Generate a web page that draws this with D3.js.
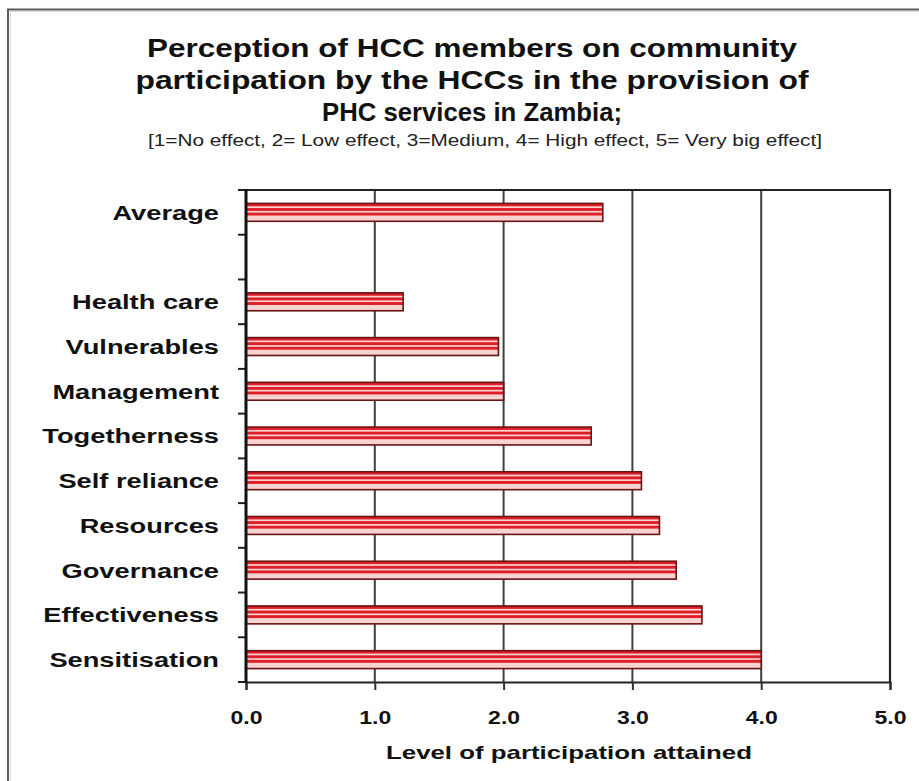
<!DOCTYPE html>
<html>
<head>
<meta charset="utf-8">
<script src="https://cdn.jsdelivr.net/npm/d3@7/dist/d3.min.js"></script>
<style>
  html, body { margin: 0; padding: 0; background: #fff; }
  svg { display: block; }
  text { font-family: "Liberation Sans", Arial, sans-serif; fill: #111; }
</style>
</head>
<body>
<svg id="chart" width="919" height="781"></svg>
<script>
// Categories listed top to bottom; the empty entry leaves a gap under "Average".
const categories = ["Average", "", "Health care", "Vulnerables", "Management",
  "Togetherness", "Self reliance", "Resources", "Governance", "Effectiveness", "Sensitisation"];
const values = [2.77, null, 1.22, 1.96, 2.0, 2.68, 3.07, 3.21, 3.34, 3.54, 4.0];
const xTicks = [0, 1, 2, 3, 4, 5];
const titleLines = [
  "Perception of HCC members on community",
  "participation by the HCCs in the provision of",
  "PHC services in Zambia;"
];
const subtitle = "[1=No effect, 2= Low effect, 3=Medium, 4= High effect, 5= Very big effect]";
const xTitle = "Level of participation attained";

const svg = d3.select("#chart");
const plot = { left: 246, right: 890, top: 190, bottom: 682 };
const stretch = 1.33; // horizontal text stretch

// outer frame
svg.append("path")
  .attr("d", "M8,781 L8,9.5 L919,9.5")
  .attr("fill", "none").attr("stroke", "#5a5a5a").attr("stroke-width", 2);
svg.append("path")
  .attr("d", "M10.5,781 L10.5,11.5 L919,11.5")
  .attr("fill", "none").attr("stroke", "#d8d8d8").attr("stroke-width", 1);

// titles
const titleY = [57, 89, 121];
const titleW = [650, 673, 300];
titleLines.forEach((t, i) => {
  svg.append("text")
    .attr("x", 472).attr("y", titleY[i])
    .attr("text-anchor", "middle")
    .attr("font-size", 26).attr("font-weight", "bold")
    .attr("textLength", titleW[i]).attr("lengthAdjust", "spacingAndGlyphs")
    .text(t);
});
svg.append("text")
  .attr("x", 485).attr("y", 146)
  .attr("text-anchor", "middle")
  .attr("font-size", 16)
  .attr("textLength", 674).attr("lengthAdjust", "spacingAndGlyphs")
  .style("fill", "#222")
  .text(subtitle);

// scales
const x = d3.scaleLinear().domain([0, 5]).range([plot.left, plot.right]);
const y = d3.scaleBand().domain(categories.map((c, i) => i)).range([plot.top, plot.bottom]).padding(0);
const bw = y.bandwidth();
const barH = bw * 0.4;

// vertical gridlines
svg.append("g").selectAll("line")
  .data(xTicks.filter(t => t > 0 && t < 5))
  .join("line")
  .attr("x1", d => x(d)).attr("x2", d => x(d))
  .attr("y1", plot.top).attr("y2", plot.bottom)
  .attr("stroke", "#3f3f3f").attr("stroke-width", 2);

// plot frame (top and right)
svg.append("path")
  .attr("d", `M${plot.left},${plot.top} L${plot.right},${plot.top} L${plot.right},${plot.bottom}`)
  .attr("fill", "none").attr("stroke", "#222").attr("stroke-width", 2.2);

// striped bars
const bars = svg.append("g");
const period = 4.6;
categories.forEach((c, i) => {
  const v = values[i];
  if (v == null) return;
  const y0 = y(i) + (bw - barH) / 2;
  const x0 = x(0), x1 = x(v);
  const g = bars.append("g");
  g.append("rect")
    .attr("x", x0).attr("y", y0).attr("width", x1 - x0).attr("height", barH)
    .attr("fill", "#f9d2d2");
  const n = Math.floor(barH / period);
  g.selectAll("rect.stripe")
    .data(d3.range(n))
    .join("rect").attr("class", "stripe")
    .attr("x", x0).attr("width", x1 - x0)
    .attr("y", k => y0 + k * period)
    .attr("height", 2.9)
    .attr("fill", "#df1f28");
  g.append("rect")
    .attr("x", x0).attr("y", y0).attr("width", x1 - x0).attr("height", barH)
    .attr("fill", "none").attr("stroke", "#6a1313").attr("stroke-width", 1.6);
});

// x axis
const xAxis = svg.append("g")
  .attr("transform", `translate(0,${plot.bottom})`)
  .call(d3.axisBottom(x).tickValues(xTicks).tickFormat(d3.format(".1f")).tickSize(8).tickPadding(21));
xAxis.select(".domain").attr("stroke", "#222").attr("stroke-width", 2.2);
xAxis.selectAll(".tick line").attr("stroke", "#333").attr("stroke-width", 2);
xAxis.selectAll(".tick text")
  .attr("font-size", 18).attr("font-weight", "bold")
  .attr("font-family", "Liberation Sans, Arial, sans-serif")
  .attr("fill", "#111")
  .attr("textLength", 32).attr("lengthAdjust", "spacingAndGlyphs");

// y axis line and ticks at category boundaries
const boundaries = d3.range(categories.length + 1).map(i => plot.top + i * y.step());
svg.append("g").selectAll("line")
  .data(boundaries)
  .join("line")
  .attr("x1", plot.left - 8).attr("x2", plot.left)
  .attr("y1", d => d).attr("y2", d => d)
  .attr("stroke", "#222").attr("stroke-width", 2);
svg.append("line")
  .attr("x1", plot.left).attr("x2", plot.left)
  .attr("y1", plot.top - 1).attr("y2", plot.bottom + 1)
  .attr("stroke", "#111").attr("stroke-width", 3);

// category labels
const labels = svg.append("g");
categories.forEach((c, i) => {
  if (!c) return;
  labels.append("text")
    .attr("transform", `translate(219,${y(i) + bw / 2}) scale(${stretch},1)`)
    .attr("text-anchor", "end").attr("dy", "0.36em")
    .attr("font-size", 20.5).attr("font-weight", "bold")
    .text(c);
});

// x axis title
svg.append("text")
  .attr("x", 569).attr("y", 759)
  .attr("text-anchor", "middle")
  .attr("font-size", 19).attr("font-weight", "bold")
  .attr("textLength", 366).attr("lengthAdjust", "spacingAndGlyphs")
  .text(xTitle);
</script>
</body>
</html>
